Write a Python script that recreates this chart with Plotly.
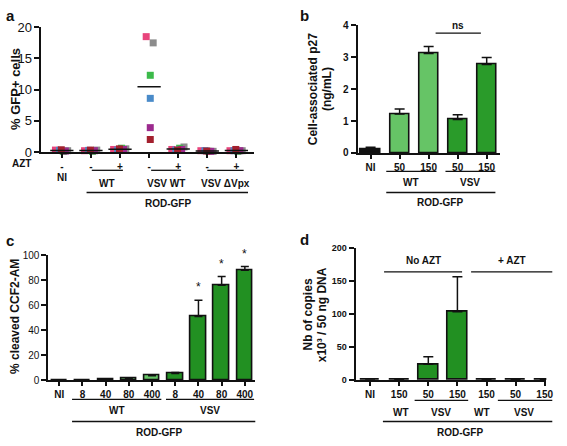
import plotly.graph_objects as go

W, H = 567, 446
FONT = "Liberation Sans"
BLACK = "#111111"
LIGHT = "#66c466"
DARK = "#229022"
DARK_B = "#2a9b2a"

# ---------------- Data ----------------
# Panel a: % GFP+ cells, six donors per condition
a_azt = ["-", "-", "+", "-", "+", "-", "+"]
a_donor_colors = ["#e8457c", "#8c8c8c", "#3cba4a", "#4a8bc9", "#9c2a8e", "#a3202e"]
a_values = [
    [0.30, 0.20, 0.10, 0.25, 0.15, 0.35],   # NI
    [0.20, 0.30, 0.10, 0.25, 0.20, 0.30],   # WT -
    [0.40, 0.50, 0.60, 0.30, 0.40, 0.50],   # WT +
    [18.5, 17.5, 12.3, 8.6, 3.9, 2.0],      # VSV WT -
    [0.40, 0.80, 0.60, 0.30, 0.40, 0.30],   # VSV WT +
    [0.20, 0.10, 0.10, 0.20, 0.10, 0.15],   # VSV dVpx -
    [0.20, 0.20, 0.10, 0.20, 0.20, 0.40],   # VSV dVpx +
]
a_groups = ["WT", "VSV WT", "VSV ΔVpx"]

# Panel b: cell-associated p27 (ng/mL)
b_cats = ["NI", "50", "150", "50", "150"]
b_vals = [0.12, 1.22, 3.12, 1.05, 2.77]
b_err = [0.06, 0.16, 0.22, 0.15, 0.22]
b_groups = ["WT", "VSV"]

# Panel c: % cleaved CCF2-AM
c_cats = ["NI", "8", "40", "80", "400", "8", "40", "80", "400"]
c_vals = [0.0, 0.0, 0.3, 1.5, 3.5, 5.2, 51.0, 76.0, 88.0]
c_err = [0.0, 0.0, 0.2, 0.4, 0.8, 0.8, 13.0, 7.0, 3.0]
c_sig = ["", "", "", "", "", "", "*", "*", "*"]
c_groups = ["WT", "VSV"]

# Panel d: Nb of copies x10^3 / 50 ng DNA
d_cats = ["NI", "150", "50", "150", "150", "50", "150"]
d_vals = [0.0, 0.4, 24.0, 103.0, 0.4, 0.3, 1.2]
d_err = [0.0, 0.0, 11.0, 53.0, 0.0, 0.0, 0.6]
d_groups = ["WT", "VSV", "WT", "VSV"]
d_treat = ["No AZT", "+ AZT"]

# ---------------- Geometry (pixels) ----------------
P = {
    "a": dict(x0=42, x1=257, ytop=21, ybot=150, xr=[-0.7, 6.6], yr=[0, 20]),
    "b": dict(x0=362, x1=506, ytop=19, ybot=151, xr=[-0.45, 4.45], yr=[0, 4]),
    "c": dict(x0=49, x1=258, ytop=257, ybot=386, xr=[-0.47, 8.43], yr=[0, 100]),
    "d": dict(x0=360, x1=553, ytop=249, ybot=386, xr=[-0.5, 6.05], yr=[0, 200]),
}


def px(x):
    return x / W


def py(y):
    return 1 - y / H


def cat2px(panel, c):
    g = P[panel]
    return g["x0"] + (c - g["xr"][0]) / (g["xr"][1] - g["xr"][0]) * (g["x1"] - g["x0"])


fig = go.Figure()

# ---- panel a traces ----
a_off = [-0.22, 0.2, 0.05, -0.08, 0.12, -0.02]
a_off_vsv = [-0.1, 0.14, 0.04, 0.04, 0.04, 0.04]
for d, col in enumerate(a_donor_colors):
    xs, ys = [], []
    for g, vals in enumerate(a_values):
        off = a_off_vsv[d] if g == 3 else a_off[d]
        xs.append(g + off)
        ys.append(vals[d])
    fig.add_trace(go.Scatter(x=xs, y=ys, mode="markers", xaxis="x", yaxis="y",
                             marker=dict(symbol="square", size=7, color=col),
                             showlegend=False, cliponaxis=False))
for g, vals in enumerate(a_values):
    m = sum(vals) / len(vals)
    fig.add_trace(go.Scatter(x=[g - 0.4, g + 0.4], y=[m, m], mode="lines",
                             xaxis="x", yaxis="y", line=dict(color=BLACK, width=1.5),
                             showlegend=False, cliponaxis=False))

# ---- panel b ----
fig.add_trace(go.Bar(x=list(range(len(b_cats))), y=b_vals, xaxis="x2", yaxis="y2",
                     width=0.66,
                     marker=dict(color=[BLACK, LIGHT, LIGHT, DARK_B, DARK_B],
                                 line=dict(color=BLACK, width=1.6)),
                     error_y=dict(type="data", array=b_err, arrayminus=[0] * 5,
                                  symmetric=False, color=BLACK, thickness=1.5, width=5),
                     showlegend=False))

# ---- panel c ----
fig.add_trace(go.Bar(x=list(range(len(c_cats))), y=c_vals, xaxis="x3", yaxis="y3",
                     width=0.67,
                     marker=dict(color=[BLACK] + [LIGHT] * 4 + [DARK] * 4,
                                 line=dict(color=BLACK, width=1.6)),
                     error_y=dict(type="data", array=c_err, arrayminus=[0] * 9,
                                  symmetric=False, color=BLACK, thickness=1.5, width=4),
                     showlegend=False))

# ---- panel d ----
fig.add_trace(go.Bar(x=list(range(len(d_cats))), y=d_vals, xaxis="x4", yaxis="y4",
                     width=0.68,
                     marker=dict(color=DARK, line=dict(color=BLACK, width=1.6)),
                     error_y=dict(type="data", array=d_err, arrayminus=[0] * 7,
                                  symmetric=False, color=BLACK, thickness=1.5, width=5),
                     showlegend=False))

# ---------------- Axes ----------------
def xaxis(panel, cats, anchor, font_size=10, bold=True):
    g = P[panel]
    return dict(domain=[px(g["x0"]), px(g["x1"])], range=g["xr"], anchor=anchor,
                tickmode="array", tickvals=list(range(len(cats))), ticktext=cats,
                showline=True, linecolor=BLACK, linewidth=2, ticks="outside",
                ticklen=4, tickwidth=1.5, tickcolor=BLACK, showgrid=False,
                zeroline=False, fixedrange=True,
                tickfont=dict(family=FONT, size=font_size, color=BLACK,
                              weight="bold" if bold else "normal"))


def yaxis(panel, anchor, dtick, size, bold):
    g = P[panel]
    return dict(domain=[py(g["ybot"]), py(g["ytop"])], range=g["yr"], anchor=anchor,
                dtick=dtick, showline=True, linecolor=BLACK, linewidth=2,
                ticks="outside", ticklen=5, tickwidth=1.5, tickcolor=BLACK,
                showgrid=False, zeroline=False, fixedrange=True,
                tickfont=dict(family=FONT, size=size, color=BLACK,
                              weight="bold" if bold else "normal"))


layout = dict(
    width=W, height=H, margin=dict(l=0, r=0, t=0, b=0),
    paper_bgcolor="white", plot_bgcolor="white", bargap=0,
    xaxis=xaxis("a", a_azt, "y", 10, True),
    yaxis=yaxis("a", "x", 5, 13, False),
    xaxis2=xaxis("b", b_cats, "y2"),
    yaxis2=yaxis("b", "x2", 1, 10, True),
    xaxis3=xaxis("c", c_cats, "y3"),
    yaxis3=yaxis("c", "x3", 20, 10, False),
    xaxis4=xaxis("d", d_cats, "y4"),
    yaxis4=yaxis("d", "x4", 50, 9, True),
)
fig.update_layout(**layout)

ann = []
shapes = []


def text(x, y, s, size=10, bold=True, angle=0, xanchor="center"):
    ann.append(dict(x=px(x), y=py(y), xref="paper", yref="paper", text=s,
                    showarrow=False, textangle=angle, xanchor=xanchor, yanchor="middle",
                    font=dict(family=FONT, size=size, color=BLACK,
                              weight="bold" if bold else "normal")))


def hline(x0, x1, y, w=1.3):
    shapes.append(dict(type="line", xref="paper", yref="paper", x0=px(x0), x1=px(x1),
                       y0=py(y), y1=py(y), line=dict(color=BLACK, width=w)))


# panel letters
text(4, 9, "a", 15, xanchor="left")
text(302, 9, "b", 15, xanchor="left")
text(4, 242, "c", 15, xanchor="left")
text(302, 241, "d", 15, xanchor="left")

# y titles
text(15, 85, "% GFP+ cells", 13, angle=-90)
text(317, 85, "Cell-associated p27", 12, angle=-90)
text(331, 85, "(ng/mL)", 12, angle=-90)
text(15, 320, "% cleaved CCF2-AM", 12, angle=-90)
text(312, 318, "Nb of copies", 12, angle=-90)
text(326, 318, "x10³ / 50 ng DNA", 12, angle=-90)

# ---- panel a labels ----
text(22, 162, "AZT", 10)
text(cat2px("a", 0), 176, "NI", 10)
for (c0, c1), lab in zip([(1.03, 2.1), (3.07, 4.1), (5.0, 6.25)], a_groups):
    hline(cat2px("a", c0), cat2px("a", c1), 169)
    text((cat2px("a", c0) + cat2px("a", c1)) / 2, 183, lab, 10)
hline(cat2px("a", 0.85), cat2px("a", 6.4), 192, 1.6)
text(170, 203, "ROD-GFP", 10)

# ---- panel b labels ----
for (c0, c1), lab in zip([(0.54, 2.27), (2.58, 4.3)], b_groups):
    hline(cat2px("b", c0), cat2px("b", c1), 170)
    text((cat2px("b", c0) + cat2px("b", c1)) / 2, 182, lab, 10)
hline(cat2px("b", 0.54), cat2px("b", 4.3), 192, 1.6)
text(cat2px("b", 2.4), 202, "ROD-GFP", 10)
hline(cat2px("b", 2.24), cat2px("b", 3.8), 27)
text(cat2px("b", 3.02), 19, "ns", 10)

# ---- panel c labels ----
for (c0, c1), lab in zip([(0.55, 4.4), (4.6, 8.4)], c_groups):
    hline(cat2px("c", c0), cat2px("c", c1), 406)
    text((cat2px("c", c0) + cat2px("c", c1)) / 2, 418, lab, 10)
hline(cat2px("c", 0.55), cat2px("c", 8.45), 429, 1.6)
text(cat2px("c", 4.3), 440, "ROD-GFP", 10)
for i, s in enumerate(c_sig):
    if s:
        ann.append(dict(x=i, y=c_vals[i] + c_err[i], xref="x3", yref="y3", text=s,
                        showarrow=False, yanchor="bottom", yshift=4,
                        font=dict(family=FONT, size=12, color=BLACK)))

# ---- panel d labels ----
for (c0, c1), lab in zip([(0.48, 3.16), (3.47, 6.26)], d_treat):
    hline(cat2px("d", c0), cat2px("d", c1), 274)
    text((cat2px("d", c0) + cat2px("d", c1)) / 2, 262, lab, 10)
for (c0, c1) in [(1.53, 3.37), (4.39, 6.26)]:
    hline(cat2px("d", c0), cat2px("d", c1), 407)
for c, lab in zip([1.05, 2.45, 3.85, 5.3], d_groups):
    text(cat2px("d", c), 420, lab, 10)
hline(cat2px("d", 0.44), cat2px("d", 6.26), 429, 1.6)
text(cat2px("d", 3.1), 440, "ROD-GFP", 10)

fig.update_layout(annotations=ann, shapes=shapes)
fig.write_html("out.html", config={"displayModeBar": False},
               post_script="document.body.style.margin='0';document.body.style.overflow='hidden';")
